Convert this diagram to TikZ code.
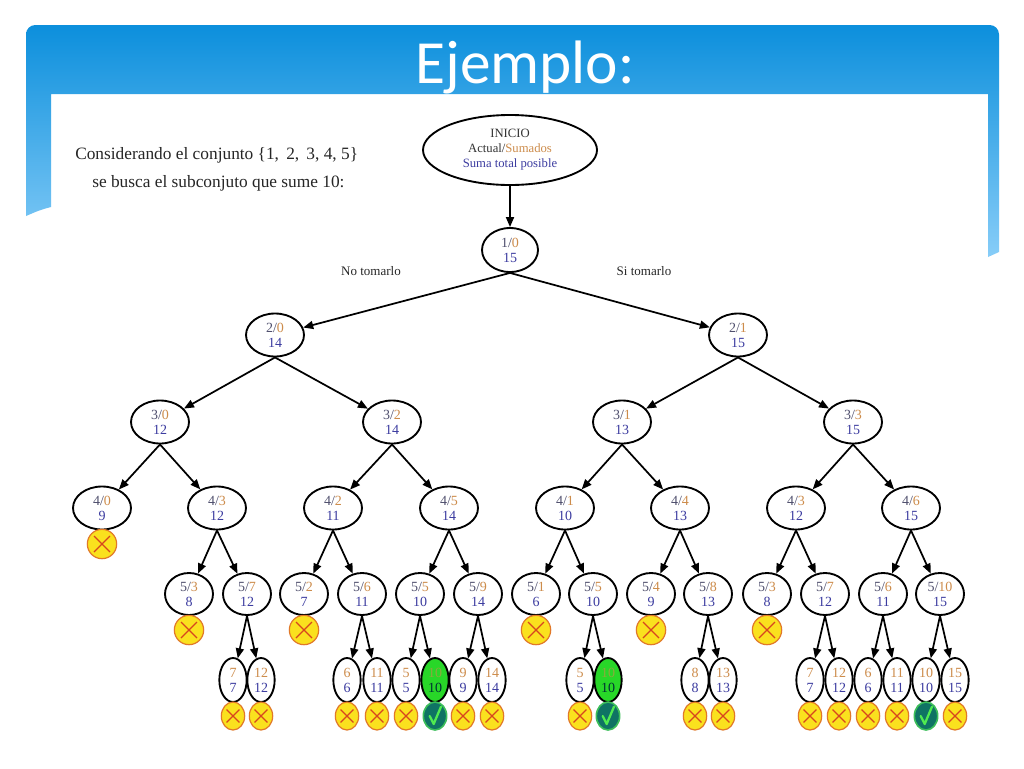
\documentclass[tikz,border=0pt]{standalone}
\usepackage{fontspec}
\usetikzlibrary{arrows.meta,shapes.geometric}
\newfontfamily\serifx{Liberation Serif}
\newfontfamily\titlefx{Carlito}
\definecolor{cA}{RGB}{80,80,110}
\definecolor{cB}{RGB}{205,140,75}
\definecolor{cC}{RGB}{60,60,160}
\definecolor{xf}{RGB}{250,225,30}
\definecolor{xb}{RGB}{225,120,40}
\definecolor{xl}{RGB}{215,70,30}
\definecolor{chkfill}{RGB}{15,115,100}
\definecolor{chkglow}{RGB}{60,190,90}
\definecolor{chkline}{RGB}{80,235,80}
\definecolor{gfill}{RGB}{40,215,40}
\definecolor{blueTop}{RGB}{12,143,220}
\definecolor{blueBot}{RGB}{135,205,248}
\newcommand\ndtxt[3]{\textcolor{cA}{#1/}\textcolor{cB}{#2}\\\textcolor{cC}{#3}}
\newcommand\lftxt[2]{\textcolor{cB}{#1}\\\textcolor{cC}{#2}}
\tikzset{
  base/.style={ellipse, draw=black, line width=1.4pt, inner sep=0pt, align=center,
    font=\serifx\fontsize{10.5}{11.25}\selectfont},
  nd/.style={base, minimum width=43.5pt, minimum height=32.25pt},
  rootnd/.style={base, minimum width=42pt, minimum height=33pt},
  ndf/.style={base, minimum width=36pt, minimum height=31.5pt},
  ndl/.style={base, minimum width=20.5pt, minimum height=33pt},
  arr/.style={-{Triangle[length=7.5pt,width=6pt]}, line width=1.3pt},
  xm/.style={ellipse, draw=xb, fill=xf, line width=0.9pt, inner sep=0pt,
    path picture={\draw[xl, line width=1pt]
      ([shift={(-#1,-#1)}]path picture bounding box.center) -- ([shift={(#1,#1)}]path picture bounding box.center)
      ([shift={(-#1,#1)}]path picture bounding box.center) -- ([shift={(#1,-#1)}]path picture bounding box.center);}},
  xbig/.style={xm=6pt, minimum width=22pt, minimum height=22pt},
  xsmall/.style={xm=4.8pt, minimum width=17.5pt, minimum height=21pt},
  chk/.style={ellipse, draw=chkglow, line width=1.2pt, fill=chkfill, inner sep=0pt,
    minimum width=17.5pt, minimum height=21pt,
    path picture={\draw[chkline, line width=1.7pt, line cap=round, line join=round]
      ([shift={(-4pt,0pt)}]path picture bounding box.center) --
      ([shift={(-1pt,-6pt)}]path picture bounding box.center) --
      ([shift={(4.5pt,7pt)}]path picture bounding box.center);}},
  lbl/.style={font=\serifx\fontsize{9.75}{11}\selectfont, text=black!85, inner sep=0pt},
}
\begin{document}
\begin{tikzpicture}[x=0.75pt,y=-0.75pt]
\useasboundingbox (0,0) rectangle (1024,768);
\fill[white] (0,0) rectangle (1024,768);
% blue header band
\shade[top color=blueTop, bottom color=blueBot]
  [rounded corners=7pt] (26,120) -- (26,25) -- (999,25) -- (999,120) [sharp corners]
  -- (999,252) -- (988,257) -- (988,94) -- (51,94) -- (51,207) .. controls (40,210) .. (26,216) -- cycle;
\node[anchor=base, text=white, inner sep=0pt, font=\titlefx\fontsize{46}{46}\selectfont] (title) at (525,83) {Ejemplo:};

% intro text
\node[anchor=base west, inner sep=0pt, text=black!85, font=\serifx\fontsize{13}{15}\selectfont] (t1) at (75,159)
  {Considerando el conjunto \{1,\, 2,\, 3, 4, 5\}};
\node[anchor=base west, inner sep=0pt, text=black!85, font=\serifx\fontsize{13}{15}\selectfont] (t2) at (92,187)
  {se busca el subconjuto que sume 10:};

% start node
\node[base, minimum width=130.5pt, minimum height=52.5pt, font=\serifx\fontsize{9.5}{11.25}\selectfont] (s) at (510,150)
  {\textcolor{black!80}{INICIO}\\\textcolor{black!80}{Actual/}\textcolor{cB}{Sumados}\\\textcolor{cC}{Suma total posible}};
\node[rootnd] (r) at (510,250) {\ndtxt{1}{0}{15}};
\node[lbl] (lno) at (371,271) {No tomarlo};
\node[lbl] (lsi) at (644,271) {Si tomarlo};

% level 2
\node[nd] (a) at (275,335) {\ndtxt{2}{0}{14}};
\node[nd] (b) at (738,335) {\ndtxt{2}{1}{15}};
% level 3
\node[nd] (a0) at (160,422) {\ndtxt{3}{0}{12}};
\node[nd] (a1) at (392,422) {\ndtxt{3}{2}{14}};
\node[nd] (b0) at (622,422) {\ndtxt{3}{1}{13}};
\node[nd] (b1) at (853,422) {\ndtxt{3}{3}{15}};
% level 4
\node[nd] (a00) at (102,508) {\ndtxt{4}{0}{9}};
\node[nd] (a01) at (217,508) {\ndtxt{4}{3}{12}};
\node[nd] (a10) at (333,508) {\ndtxt{4}{2}{11}};
\node[nd] (a11) at (449,508) {\ndtxt{4}{5}{14}};
\node[nd] (b00) at (565,508) {\ndtxt{4}{1}{10}};
\node[nd] (b01) at (680,508) {\ndtxt{4}{4}{13}};
\node[nd] (b10) at (796,508) {\ndtxt{4}{3}{12}};
\node[nd] (b11) at (911,508) {\ndtxt{4}{6}{15}};
\node[xbig] (xa00) at (102,544) {};
% level 5
\node[ndf] (a010) at (189,594) {\ndtxt{5}{3}{8}};
\node[ndf] (a011) at (247,594) {\ndtxt{5}{7}{12}};
\node[ndf] (a100) at (304,594) {\ndtxt{5}{2}{7}};
\node[ndf] (a101) at (362,594) {\ndtxt{5}{6}{11}};
\node[ndf] (a110) at (420,594) {\ndtxt{5}{5}{10}};
\node[ndf] (a111) at (478,594) {\ndtxt{5}{9}{14}};
\node[ndf] (b000) at (536,594) {\ndtxt{5}{1}{6}};
\node[ndf] (b001) at (593,594) {\ndtxt{5}{5}{10}};
\node[ndf] (b010) at (651,594) {\ndtxt{5}{4}{9}};
\node[ndf] (b011) at (708,594) {\ndtxt{5}{8}{13}};
\node[ndf] (b100) at (767,594) {\ndtxt{5}{3}{8}};
\node[ndf] (b101) at (825,594) {\ndtxt{5}{7}{12}};
\node[ndf] (b110) at (883,594) {\ndtxt{5}{6}{11}};
\node[ndf] (b111) at (940,594) {\ndtxt{5}{10}{15}};
\node[xbig] (xa010) at (189,630) {};
\node[xbig] (xa100) at (304,630) {};
\node[xbig] (xb000) at (536,630) {};
\node[xbig] (xb010) at (651,630) {};
\node[xbig] (xb100) at (767,630) {};
% level 6
\node[ndl] (c1) at (233,680) {\lftxt{7}{7}};
\node[ndl] (c2) at (261,680) {\lftxt{12}{12}};
\node[ndl] (c3) at (347,680) {\lftxt{6}{6}};
\node[ndl] (c4) at (377,680) {\lftxt{11}{11}};
\node[ndl] (c5) at (406,680) {\lftxt{5}{5}};
\node[ndl, fill=gfill] (c6) at (435,680) {\textcolor{cB!60!gfill}{10}\\\textcolor{black!60!teal}{10}};
\node[ndl] (c7) at (463,680) {\lftxt{9}{9}};
\node[ndl] (c8) at (492,680) {\lftxt{14}{14}};
\node[ndl] (d1) at (580,680) {\lftxt{5}{5}};
\node[ndl, fill=gfill] (d2) at (608,680) {\textcolor{cB!60!gfill}{10}\\\textcolor{black!60!teal}{10}};
\node[ndl] (d3) at (695,680) {\lftxt{8}{8}};
\node[ndl] (d4) at (723,680) {\lftxt{13}{13}};
\node[ndl] (d5) at (810,680) {\lftxt{7}{7}};
\node[ndl] (d6) at (839,680) {\lftxt{12}{12}};
\node[ndl] (d7) at (868,680) {\lftxt{6}{6}};
\node[ndl] (d8) at (897,680) {\lftxt{11}{11}};
\node[ndl] (d9) at (926,680) {\lftxt{10}{10}};
\node[ndl] (d10) at (955,680) {\lftxt{15}{15}};
% bottom markers
\foreach \n/\xx in {c1/233,c2/261,c3/347,c4/377,c5/406,c7/463,c8/492,d1/580,d3/695,d4/723,d5/810,d6/839,d7/868,d8/897,d10/955}
  \node[xsmall] (x\n) at (\xx,716) {};
\node[chk] (kc6) at (435,716) {};
\node[chk] (kd2) at (608,716) {};
\node[chk] (kd9) at (926,716) {};

% edges
\foreach \p/\c in {s/r, r/a, r/b, a/a0, a/a1, b/b0, b/b1,
  a0/a00, a0/a01, a1/a10, a1/a11, b0/b00, b0/b01, b1/b10, b1/b11,
  a01/a010, a01/a011, a10/a100, a10/a101, a11/a110, a11/a111,
  b00/b000, b00/b001, b01/b010, b01/b011, b10/b100, b10/b101, b11/b110, b11/b111,
  a011/c1, a011/c2, a101/c3, a101/c4, a110/c5, a110/c6, a111/c7, a111/c8,
  b001/d1, b001/d2, b011/d3, b011/d4, b101/d5, b101/d6, b110/d7, b110/d8, b111/d9, b111/d10}
  \draw[arr] (\p.south) -- (\c);
\end{tikzpicture}
\end{document}
